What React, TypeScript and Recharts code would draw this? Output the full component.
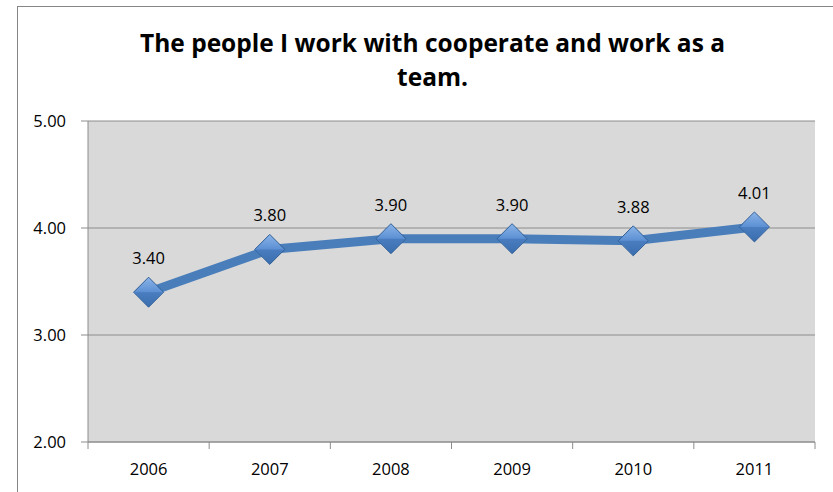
import React from 'react';
import {
  LineChart,
  Line,
  XAxis,
  YAxis,
  CartesianGrid,
  LabelList
} from 'recharts';

const years = ['2006', '2007', '2008', '2009', '2010', '2011'];
const scores = [3.4, 3.8, 3.9, 3.9, 3.88, 4.01];
const yTicks = [2, 3, 4, 5];

const chartData = years.map((year, i) => ({ year, score: scores[i] }));

const FONT = '"Open Sans", Lato, sans-serif';
const GRID = '#8c8c8c';
const X_TICK_MARGIN = 15;

// diamond marker with a soft top-to-bottom shade, like the office preset
const DiamondDot = (props: any) => {
  const { cx, cy, index } = props;
  if (cx == null || cy == null) return null;
  const r = 15;
  return (
    <g key={`dot-${index}`}>
      <polygon
        points={`${cx},${cy - r} ${cx + r},${cy} ${cx},${cy + r} ${cx - r},${cy}`}
        fill="url(#diamondGrad)"
        stroke="#2f5e96"
        strokeWidth={1}
      />
      <polygon
        points={`${cx - r + 1},${cy} ${cx + r - 1},${cy} ${cx},${cy + r - 1}`}
        fill="#3d6fae"
        opacity={0.55}
      />
    </g>
  );
};

// category label plus the small tick marks that sit on the band edges
const YearTick = (props: any) => {
  const { x, y, payload, index } = props;
  const half = payload?.offset ?? 0;
  const axisY = y - 6 - X_TICK_MARGIN;
  return (
    <g>
      {index === 0 && (
        <line x1={x - half} x2={x - half} y1={axisY} y2={axisY + 7} stroke={GRID} />
      )}
      <line x1={x + half} x2={x + half} y1={axisY} y2={axisY + 7} stroke={GRID} />
      <text
        x={x}
        y={y}
        dy="0.71em"
        textAnchor="middle"
        fill="#000"
        fontSize={16.5}
        fontFamily={FONT}
      >
        {payload.value}
      </text>
    </g>
  );
};

export default function App() {
  return (
    <div style={{ position: 'absolute', left: 0, top: 0, width: 833, height: 492, overflow: 'hidden', background: '#fff' }}>
      {/* chart frame */}
      <div
        style={{
          position: 'absolute',
          left: 17,
          top: 6,
          width: 840,
          height: 500,
          border: '1px solid #868686',
          boxSizing: 'border-box'
        }}
      />
      {/* title */}
      <div
        style={{
          position: 'absolute',
          left: 17,
          top: 26,
          width: 831,
          textAlign: 'center',
          fontFamily: FONT,
          fontWeight: 'bold',
          fontSize: 24.5,
          lineHeight: '34px',
          color: '#000'
        }}
      >
        The people I work with cooperate and work as a
        <br />
        team.
      </div>
      <div style={{ position: 'absolute', left: 0, top: 0 }}>
        <LineChart
          width={833}
          height={492}
          data={chartData}
          margin={{ top: 121, right: 18, left: 18, bottom: 20 }}
        >
          <defs>
            <linearGradient id="diamondGrad" x1="0" y1="0" x2="0" y2="1">
              <stop offset="0%" stopColor="#8bb4e8" />
              <stop offset="50%" stopColor="#5b8fd3" />
              <stop offset="100%" stopColor="#3a6cae" />
            </linearGradient>
          </defs>
          <CartesianGrid
            fill="#d9d9d9"
            stroke={GRID}
            vertical={false}
            horizontalValues={yTicks}
          />
          <XAxis
            dataKey="year"
            scale="band"
            height={30}
            tickLine={false}
            stroke={GRID}
            tick={<YearTick />}
            tickMargin={X_TICK_MARGIN}
          />
          <YAxis
            domain={[2, 5]}
            ticks={yTicks}
            width={70}
            tickSize={7}
            stroke={GRID}
            tickFormatter={(v: number) => v.toFixed(2)}
            tick={{ fill: '#000', fontSize: 16.5, fontFamily: FONT }}
            tickMargin={15}
          />
          <Line
            dataKey="score"
            stroke="#4a7ebb"
            strokeWidth={9}
            dot={<DiamondDot />}
            activeDot={false}
            isAnimationActive={false}
          >
            <LabelList
              dataKey="score"
              position="top"
              offset={28}
              formatter={(v: number) => v.toFixed(2)}
              style={{ fill: '#000', fontSize: 16.5, fontFamily: FONT }}
            />
          </Line>
        </LineChart>
      </div>
    </div>
  );
}
